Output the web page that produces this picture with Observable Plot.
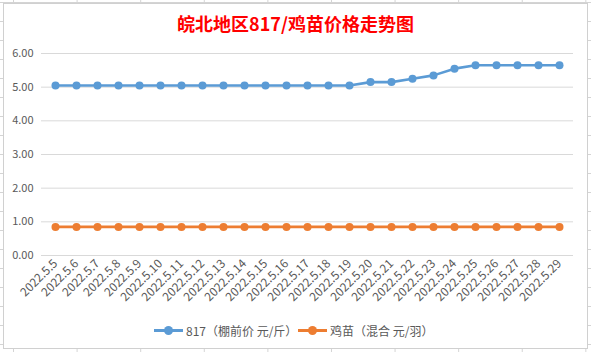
<!DOCTYPE html>
<html><head><meta charset="utf-8">
<script src="https://cdn.jsdelivr.net/npm/d3@7"></script>
<script src="https://cdn.jsdelivr.net/npm/@observablehq/plot@0.6"></script>
<style>
html,body{margin:0;padding:0;}
body{width:591px;height:352px;position:relative;overflow:hidden;background:#fff;
 background-image:linear-gradient(to right,#d4d4d4 1px,transparent 1px),linear-gradient(to bottom,#d4d4d4 1px,transparent 1px);
 background-size:63.6px 19px;background-position:13px 2px;
 font-family:"Noto Sans CJK SC","Microsoft YaHei",sans-serif;}
#box{position:absolute;left:3px;top:3px;width:583px;height:344px;background:#fff;border:1px solid #d0d0d0;}
#title{position:absolute;left:0;top:11px;width:591px;text-align:center;color:#ff0000;font-weight:bold;font-size:18px;line-height:24px;}
#chart{position:absolute;left:0;top:40px;}
#legend{position:absolute;left:0;top:320px;width:591px;height:20px;font-size:12px;color:#595959;}
.item{position:absolute;top:0;display:flex;align-items:center;height:20px;}
.sw{position:relative;width:29px;height:20px;margin-right:3px;}
.sw .ln{position:absolute;left:0;top:9px;width:29px;height:3px;}
.sw .dt{position:absolute;left:10px;top:6px;width:9px;height:9px;border-radius:50%;}
</style></head>
<body>
<div id="box"></div>
<div id="title">皖北地区817/鸡苗价格走势图</div>
<div id="chart"></div>
<div id="legend"></div>
<script>
const dates = ["2022.5.5","2022.5.6","2022.5.7","2022.5.8","2022.5.9","2022.5.10","2022.5.11","2022.5.12","2022.5.13","2022.5.14","2022.5.15","2022.5.16","2022.5.17","2022.5.18","2022.5.19","2022.5.20","2022.5.21","2022.5.22","2022.5.23","2022.5.24","2022.5.25","2022.5.26","2022.5.27","2022.5.28","2022.5.29"];
const price817 = [5.05,5.05,5.05,5.05,5.05,5.05,5.05,5.05,5.05,5.05,5.05,5.05,5.05,5.05,5.05,5.15,5.15,5.25,5.35,5.55,5.65,5.65,5.65,5.65,5.65];
const priceChick = [0.85,0.85,0.85,0.85,0.85,0.85,0.85,0.85,0.85,0.85,0.85,0.85,0.85,0.85,0.85,0.85,0.85,0.85,0.85,0.85,0.85,0.85,0.85,0.85,0.85];
const seriesNames = ["817（棚前价 元/斤）","鸡苗（混合 元/羽）"];
const seriesColors = ["#5B9BD5","#ED7D31"];
const yTicks = [0,1,2,3,4,5,6];

const rows = [];
dates.forEach((d,i)=>{
  rows.push({date:d, v:price817[i], s:seriesNames[0]});
  rows.push({date:d, v:priceChick[i], s:seriesNames[1]});
});

const plot = Plot.plot({
  width: 591,
  height: 270,
  marginTop: 13,
  marginBottom: 55,
  marginLeft: 41,
  marginRight: 18,
  style: {fontFamily: '"Noto Sans CJK SC","Microsoft YaHei",sans-serif', fontSize: "11px", color: "#595959", background: "transparent"},
  x: {type: "point", domain: dates, padding: 0.5},
  y: {domain: [0, 6]},
  color: {domain: seriesNames, range: seriesColors},
  marks: [
    Plot.gridY(yTicks, {stroke: "#d9d9d9", strokeOpacity: 1, strokeWidth: 1}),
    Plot.axisY(yTicks, {tickSize: 0, tickPadding: 8, tickFormat: d3.format(".2f"), label: null, fill: "#595959"}),
    Plot.axisX({tickRotate: -45, tickSize: 0, tickPadding: 6, label: null, fill: "#595959", fontSize: 12}),
    Plot.line(rows, {x: "date", y: "v", z: "s", stroke: "s", strokeWidth: 2.6}),
    Plot.dot(rows, {x: "date", y: "v", fill: "s", r: 4})
  ]
});
document.getElementById("chart").appendChild(plot);

const legend = document.getElementById("legend");
const lefts = [154, 298];
seriesNames.forEach((n,i)=>{
  const it = document.createElement("div");
  it.className = "item";
  it.style.left = lefts[i] + "px";
  it.innerHTML = `<div class="sw"><div class="ln" style="background:${seriesColors[i]}"></div><div class="dt" style="background:${seriesColors[i]}"></div></div><span>${n}</span>`;
  legend.appendChild(it);
});
</script>
</body></html>
